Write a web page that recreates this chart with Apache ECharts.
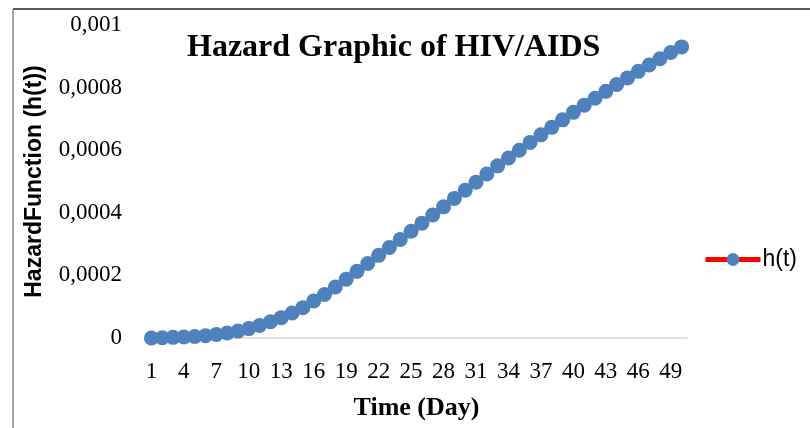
<!DOCTYPE html>
<html>
<head>
<meta charset="utf-8">
<script src="https://cdn.jsdelivr.net/npm/echarts@6/dist/echarts.min.js"></script>
<style>
  html, body { margin: 0; padding: 0; background: #fff; }
  #chart { width: 810px; height: 428px; }
</style>
</head>
<body>
<div id="chart"></div>
<script>
// days 1..50
var days = [];
for (var d = 1; d <= 50; d++) days.push(String(d));

// h(t)
var hazard = [
  0, 0.000001, 0.000002, 0.000003, 0.000005, 0.000007, 0.000011, 0.000016, 0.000022, 0.00003,
  0.00004, 0.000052, 0.000065, 0.00008, 0.000097, 0.000118, 0.000139, 0.000163, 0.000188, 0.000213,
  0.000238, 0.000264, 0.000289, 0.000315, 0.000341, 0.000367, 0.000393, 0.000419, 0.000446, 0.000472,
  0.000498, 0.000524, 0.00055, 0.000575, 0.0006, 0.000625, 0.000649, 0.000673, 0.000697, 0.000721,
  0.000744, 0.000766, 0.000788, 0.00081, 0.000831, 0.000852, 0.000872, 0.000892, 0.000912, 0.00093
];

var yMin = 0, yMax = 0.001, yStep = 0.0002;

var chart = echarts.init(document.getElementById("chart"));
var option = {
  animation: false,
  backgroundColor: "#fff",
  title: {
    text: "Hazard Graphic of HIV/AIDS",
    left: 182,
    top: 27,
    textStyle: {
      fontFamily: "Liberation Serif",
      fontWeight: "bold",
      fontSize: 32,
      color: "#000"
    }
  },
  legend: {
    left: 698,
    top: 243,
    itemWidth: 55,
    itemHeight: 16,
    itemGap: 5,
    lineStyle: { width: 5, color: "#ff0000" },
    textStyle: { fontFamily: "Liberation Sans", fontSize: 23, color: "#000", padding: [0, 0, 0, -3] },
    data: ["h(t)"]
  },
  grid: { left: 146, right: 123, top: 25, bottom: 90, containLabel: false, outerBoundsMode: "none" },
  xAxis: {
    type: "category",
    data: days,
    name: "Time (Day)",
    nameLocation: "middle",
    nameGap: 57,
    nameTextStyle: { fontFamily: "Liberation Serif", fontWeight: "bold", fontSize: 26, color: "#000" },
    axisLine: { lineStyle: { color: "#d9d9d9", width: 1.5 } },
    axisTick: { show: false },
    axisLabel: {
      interval: 2,
      margin: 22,
      fontFamily: "Liberation Serif",
      fontSize: 23,
      color: "#000"
    }
  },
  yAxis: {
    type: "value",
    min: yMin,
    max: yMax,
    interval: yStep,
    name: "HazardFunction (h(t))",
    nameLocation: "middle",
    nameGap: 100,
    nameTextStyle: { fontFamily: "Liberation Sans", fontWeight: "bold", fontSize: 23, color: "#000" },
    axisLine: { show: false },
    axisTick: { show: false },
    splitLine: { show: false },
    axisLabel: {
      margin: 24,
      fontFamily: "Liberation Serif",
      fontSize: 23,
      color: "#000",
      formatter: function (v) {
        return String(parseFloat(v.toPrecision(6))).replace(".", ",");
      }
    }
  },
  series: [
    {
      name: "h(t)",
      type: "line",
      data: hazard,
      symbol: "circle",
      symbolSize: 15,
      showAllSymbol: true,
      itemStyle: { color: "#4f81bd" },
      lineStyle: { color: "#ff0000", width: 5 }
    }
  ],
  graphic: [
    { type: "line", shape: { x1: 13, y1: 9, x2: 810, y2: 9 }, style: { stroke: "#222", lineWidth: 1.5 } },
    { type: "line", shape: { x1: 13, y1: 9, x2: 13, y2: 428 }, style: { stroke: "#888", lineWidth: 1.5 } }
  ]
};
chart.setOption(option);
</script>
</body>
</html>
